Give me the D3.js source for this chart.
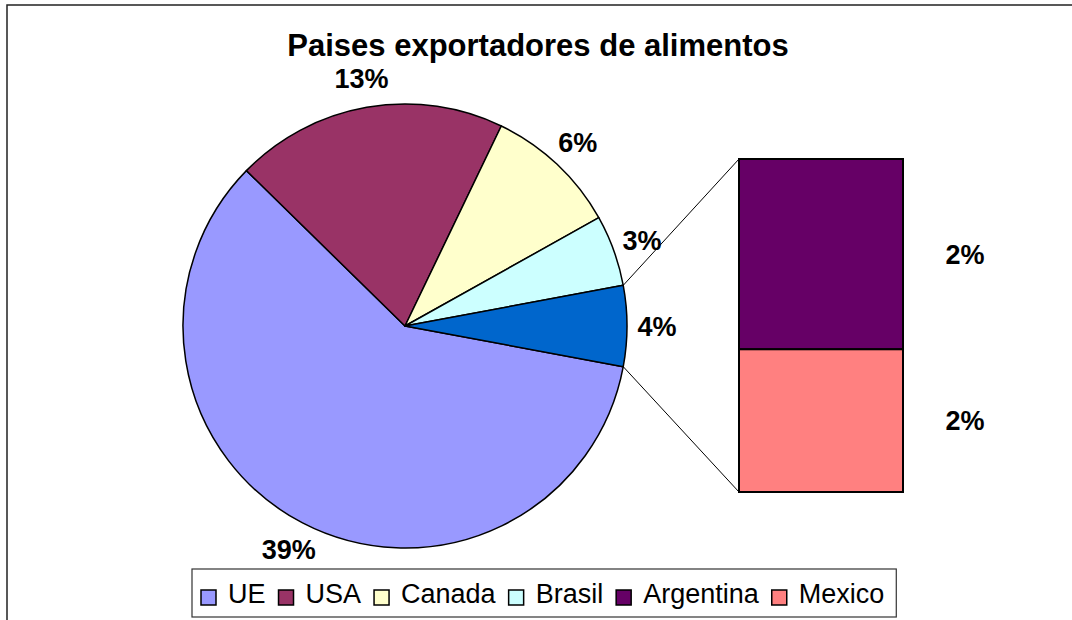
<!DOCTYPE html>
<html>
<head>
<meta charset="utf-8">
<script src="https://cdn.jsdelivr.net/npm/d3@7"></script>
<style>
  body { margin: 0; background: #fff; }
  svg { display: block; font-family: "Liberation Sans", Arial, sans-serif; }
</style>
</head>
<body>
<div id="Chart"></div>
<script>
const title = "Paises exportadores de alimentos";
const categories = ["UE", "USA", "Canada", "Brasil", "Argentina", "Mexico"];
const values = [39, 13, 6.4, 3.4, 2.2, 1.65];
const colors = ["#9999FF", "#993366", "#FFFFCC", "#CCFFFF", "#660066", "#FF8080"];
const otherColor = "#0066CC";
const pieCount = 4; // the rest goes into the bar

const W = 1072, H = 620;
const pie = {cx: 405, cy: 326, r: 222, labelR: 252};
const bar = {x0: 739, x1: 903, y0: 159, y1: 492, labelX: 965};

const svg = d3.select("#Chart").append("svg")
  .attr("width", W).attr("height", H);

// chart frame (runs off the right and bottom edges)
svg.append("rect")
  .attr("x", 7).attr("y", 5).attr("width", W + 20).attr("height", H + 20)
  .attr("fill", "#fff").attr("stroke", "#222").attr("stroke-width", 1.5);

svg.append("text")
  .attr("x", 538).attr("y", 56)
  .attr("text-anchor", "middle")
  .attr("font-size", 31).attr("font-weight", "bold")
  .text(title);

const label = v => Math.round(v) + "%";

// pie slices: first four + "other"
const rest = values.slice(pieCount);
const pieData = values.slice(0, pieCount).map((v, i) => ({v, color: colors[i]}));
pieData.push({v: d3.sum(rest), color: otherColor});

const probe = d3.pie().sort(null).value(d => d.v)(pieData);
const o = probe[probe.length - 1];
const offset = Math.PI / 2 - (o.startAngle + o.endAngle) / 2;
const arcs = d3.pie().sort(null).value(d => d.v)
  .startAngle(offset).endAngle(offset + 2 * Math.PI)(pieData);

const gPie = svg.append("g").attr("transform", `translate(${pie.cx},${pie.cy})`);
const arc = d3.arc().innerRadius(0).outerRadius(pie.r);
const labelArc = d3.arc().innerRadius(pie.labelR).outerRadius(pie.labelR);

gPie.selectAll("path").data(arcs).join("path")
  .attr("d", arc)
  .attr("fill", d => d.data.color)
  .attr("stroke", "#000").attr("stroke-width", 1.5)
  .attr("stroke-linejoin", "round");

gPie.selectAll("text").data(arcs).join("text")
  .attr("transform", d => `translate(${labelArc.centroid(d)})`)
  .attr("text-anchor", "middle").attr("dy", "0.36em")
  .attr("font-size", 27).attr("font-weight", "bold")
  .text(d => label(d.data.v));

// bar of the grouped slice
const y = d3.scaleLinear().domain([0, d3.sum(rest)]).range([bar.y1, bar.y0]);
let acc = d3.sum(rest);
const barData = rest.map((v, i) => {
  const top = acc; acc -= v;
  return {v, top, bottom: acc, color: colors[pieCount + i]};
});

// connector lines
const oa = arcs[arcs.length - 1];
const pt = a => [pie.cx + pie.r * Math.sin(a), pie.cy - pie.r * Math.cos(a)];
const links = [
  [pt(oa.startAngle), [bar.x0, y(d3.sum(rest))]],
  [pt(oa.endAngle), [bar.x0, y(0)]]
];
svg.selectAll("line.link").data(links).join("line")
  .attr("class", "link")
  .attr("x1", d => d[0][0]).attr("y1", d => d[0][1])
  .attr("x2", d => d[1][0]).attr("y2", d => d[1][1])
  .attr("stroke", "#000").attr("stroke-width", 1);

svg.selectAll("rect.bar").data(barData).join("rect")
  .attr("class", "bar")
  .attr("x", bar.x0).attr("width", bar.x1 - bar.x0)
  .attr("y", d => y(d.top)).attr("height", d => y(d.bottom) - y(d.top))
  .attr("fill", d => d.color)
  .attr("stroke", "#000").attr("stroke-width", 2);

svg.selectAll("text.barlabel").data(barData).join("text")
  .attr("class", "barlabel")
  .attr("x", bar.labelX).attr("y", d => (y(d.top) + y(d.bottom)) / 2)
  .attr("text-anchor", "middle").attr("dy", "0.36em")
  .attr("font-size", 27).attr("font-weight", "bold")
  .text(d => label(d.v));

// legend
const lg = svg.append("g");
const box = lg.append("rect")
  .attr("fill", "#fff").attr("stroke", "#333").attr("stroke-width", 1.2);
let lx = 201;
categories.forEach((c, i) => {
  const item = lg.append("g");
  item.append("rect")
    .attr("x", lx).attr("y", 590).attr("width", 15).attr("height", 15)
    .attr("fill", colors[i]).attr("stroke", "#000").attr("stroke-width", 1.5);
  const t = item.append("text")
    .attr("x", lx + 27).attr("y", 603)
    .attr("font-size", 27)
    .text(c);
  lx += 27 + t.node().getComputedTextLength() + 13;
});
box.attr("x", 192).attr("y", 569).attr("width", lx - 13 + 12 - 192).attr("height", 48);
</script>
</body>
</html>
